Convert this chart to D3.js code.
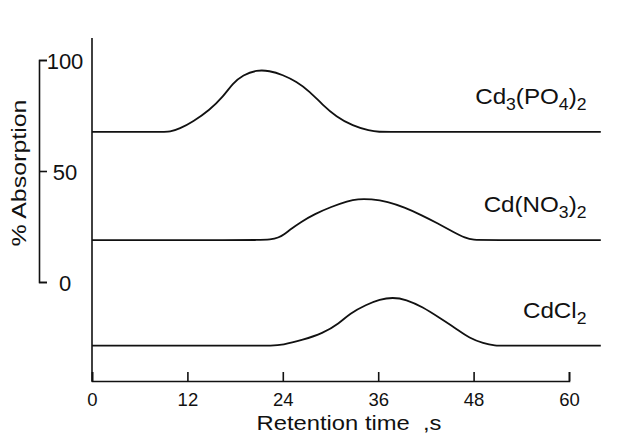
<!DOCTYPE html>
<html>
<head>
	<title>Retention time peaks</title>
	<script src="https://d3js.org/d3.v7.min.js"></script>
	<style type="text/css">
		body { margin:0; background:#fff; }
		svg { display:block; font-family:"Liberation Sans", Arial, Helvetica, sans-serif; }
		.axis path, .axis line { stroke:#111; stroke-width:1.6; }
		.axis text { fill:#111; }
		.trace { fill:none; stroke:#111; stroke-width:1.8; }
	</style>
</head>
<body>
<script type="text/javascript">

	// ---- data ----
	var xTicks = [0, 12, 24, 36, 48, 60];
	var yTicks = [0, 50, 100];
	var seriesNames = ["Cd3(PO4)2", "Cd(NO3)2", "CdCl2"];
	// baseline of each trace on the % absorption bracket
	var baselines = [67.6, 18.9, -28.7];

	var phosphateTime = [0, 8.8, 9.8, 11.0, 12.7, 14.8, 16.5, 17.7, 19.0, 20.7, 22.3, 24.0, 25.7, 27.4, 29.0, 30.7, 32.8, 34.9, 36.2, 37.2, 64];
	var phosphateAbs  = [0, 0, 0, 1.4, 4.6, 9.9, 15.9, 21.9, 25.7, 27.9, 27.6, 25.7, 22.7, 18.2, 12.2, 6.9, 2.7, 0.5, 0, 0, 0];

	var nitrateTime = [0, 19.6, 20.4, 22.6, 23.4, 24.2, 24.8, 26.3, 28.0, 30.1, 32.2, 33.4, 35.1, 37.2, 39.3, 41.4, 43.5, 45.6, 46.9, 48.1, 49.0, 64];
	var nitrateAbs  = [0, 0, 0, 0.2, 1.0, 2.6, 4.4, 8.2, 11.7, 15.0, 17.6, 18.5, 18.5, 17.3, 14.7, 11.3, 7.5, 3.3, 1.0, 0, 0, 0];

	var chlorideTime = [0, 21.5, 22.3, 24.0, 26.5, 29.0, 31.1, 32.4, 34.5, 36.2, 37.8, 39.5, 41.6, 43.7, 45.8, 47.5, 49.2, 50.8, 51.6, 64];
	var chlorideAbs  = [0, 0, 0, 0.3, 2.6, 5.5, 10.0, 14.5, 18.5, 20.9, 21.8, 20.9, 17.4, 12.6, 7.7, 3.3, 1.1, 0, 0, 0];

	// formula labels split into [text, subscript?]
	var labelParts = [
		[["Cd",0],["3",1],["(PO",0],["4",1],[")",0],["2",1]],
		[["Cd(NO",0],["3",1],[")",0],["2",1]],
		[["CdCl",0],["2",1]]
	];

	// ---- layout ----
	var w = 617, h = 439;
	var axisY = 381, axisTop = 38;

	var svg = d3.select("body").append("svg")
		.attr("width", w)
		.attr("height", h);

	var x = d3.scaleLinear().domain([0, 60]).range([92, 569]);
	var y = d3.scaleLinear().domain([0, 100]).range([282, 60]);

	// x axis, ticks pointing up into the plot
	svg.append("g")
		.attr("class", "axis")
		.attr("transform", "translate(0," + axisY + ")")
		.call(d3.axisBottom(x).tickValues(xTicks).tickSize(-9).tickSizeOuter(-9).tickPadding(12))
		.call(function(g){
			g.selectAll("text").attr("font-size", 18.5).attr("font-family", null);
			g.select(".domain").attr("stroke-linejoin", "miter");
		});

	// left frame line
	svg.append("line")
		.attr("x1", x(0)).attr("x2", x(0))
		.attr("y1", axisTop).attr("y2", axisY + 0.8)
		.attr("stroke", "#111").attr("stroke-width", 1.6);

	// % absorption bracket
	svg.append("g")
		.attr("class", "axis")
		.attr("transform", "translate(39,0)")
		.call(d3.axisRight(y).tickValues(yTicks).tickSize(8).tickSizeOuter(8).tickPadding(18))
		.call(function(g){
			g.selectAll("text")
				.attr("font-size", 22)
				.attr("font-family", null)
				.attr("text-anchor", "middle")
				.attr("dy", "0.38em");
		});

	// traces
	var traces = [
		{time: phosphateTime, abs: phosphateAbs},
		{time: nitrateTime, abs: nitrateAbs},
		{time: chlorideTime, abs: chlorideAbs}
	];

	var line = d3.line()
		.x(function(d){ return x(d[0]); })
		.y(function(d){ return y(d[1]); })
		.curve(d3.curveBasis);

	traces.forEach(function(tr, i){
		var pts = tr.time.map(function(t, j){ return [t, baselines[i] + tr.abs[j]]; });
		svg.append("path")
			.attr("class", "trace")
			.attr("d", line(pts));
	});

	// formula labels, right aligned above each trace end
	labelParts.forEach(function(parts, i){
		var t = svg.append("text")
			.attr("transform", "translate(" + (x(62.2)) + "," + (y(baselines[i]) - 28) + ") scale(1.1,1)")
			.attr("text-anchor", "end")
			.attr("font-size", 22)
			.attr("fill", "#111");
		var shifted = 0;
		parts.forEach(function(p){
			var dy = 0;
			if (p[1] && !shifted) { dy = 6; shifted = 1; }
			else if (!p[1] && shifted) { dy = -6; shifted = 0; }
			t.append("tspan")
				.attr("dy", dy)
				.attr("font-size", p[1] ? 16 : 22)
				.text(p[0]);
		});
	});

	// axis titles
	svg.append("text")
		.attr("x", 349).attr("y", 430)
		.attr("text-anchor", "middle")
		.attr("font-size", 21)
		.attr("textLength", 185)
		.attr("lengthAdjust", "spacingAndGlyphs")
		.attr("fill", "#111")
		.style("white-space", "pre")
		.text("Retention time  ,s");

	svg.append("text")
		.attr("transform", "translate(26,173) rotate(-90)")
		.attr("text-anchor", "middle")
		.attr("font-size", 20)
		.attr("textLength", 147)
		.attr("lengthAdjust", "spacingAndGlyphs")
		.attr("fill", "#111")
		.style("white-space", "pre")
		.text("% Absorption");

</script>
</body>
</html>
